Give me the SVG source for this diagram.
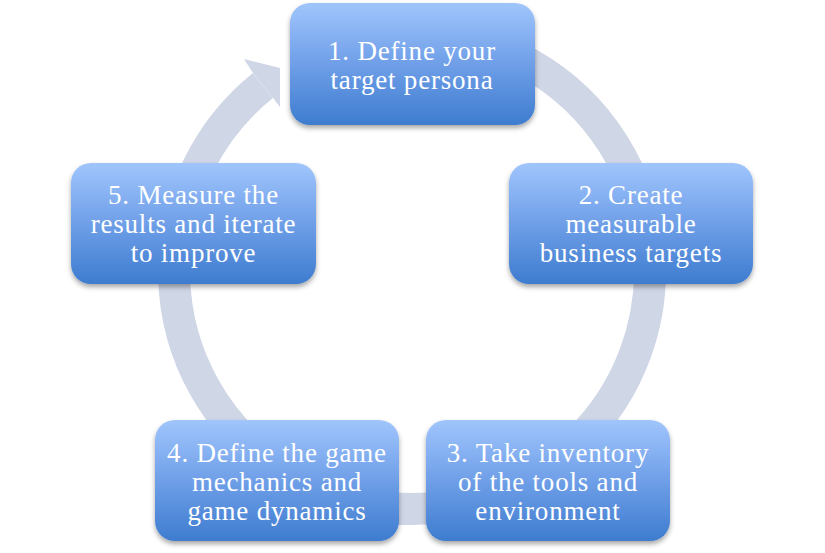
<svg xmlns="http://www.w3.org/2000/svg" width="825" height="553" viewBox="0 0 825 553">
<defs>
<linearGradient id="g" x1="0" y1="0" x2="0" y2="1">
<stop offset="0" stop-color="#A0C5FC"/>
<stop offset="0.5" stop-color="#6F9FE8"/>
<stop offset="1" stop-color="#3E7CCF"/>
</linearGradient>
<filter id="sh" x="-10%" y="-10%" width="120%" height="130%">
<feDropShadow dx="0" dy="3" stdDeviation="2.5" flood-color="#000" flood-opacity="0.35"/>
</filter>
</defs>
<style>
.box{fill:url(#g);filter:url(#sh)}
.t{font-family:"Liberation Serif","Times New Roman",serif;font-size:27px;fill:#fff;text-anchor:middle;letter-spacing:0.8px}
.ring{fill:none;stroke:#CFD6E6;stroke-width:32}
.head{fill:#CFD6E6}
</style>
<rect width="825" height="553" fill="#fff"/>
<g id="connectors">
<path class="ring" d="M432.7,33.9 A238,238 0 1 1 262.9,85.5"/>
<polygon class="head" points="253,73 244,59 280,68 280,107 273,98"/>
</g>
<g id="node1">
<rect class="box" x="290" y="3" width="245" height="122" rx="20"/>
<text class="t" x="412" y="60">1. Define your</text>
<text class="t" x="412" y="88.5">target persona</text>
</g>
<g id="node2">
<rect class="box" x="509" y="163" width="244" height="121" rx="20"/>
<text class="t" x="631" y="204">2. Create</text>
<text class="t" x="631" y="233">measurable</text>
<text class="t" x="631" y="262">business targets</text>
</g>
<g id="node3">
<rect class="box" x="426" y="420" width="244" height="121" rx="20"/>
<text class="t" x="548" y="461.5">3. Take inventory</text>
<text class="t" x="548" y="490.5">of the tools and</text>
<text class="t" x="548" y="519.5">environment</text>
</g>
<g id="node4">
<rect class="box" x="155" y="420" width="244" height="121" rx="20"/>
<text class="t" x="277" y="461.5">4. Define the game</text>
<text class="t" x="277" y="490.5">mechanics and</text>
<text class="t" x="277" y="519.5">game dynamics</text>
</g>
<g id="node5">
<rect class="box" x="71" y="163" width="245" height="121" rx="20"/>
<text class="t" x="193.5" y="204">5. Measure the</text>
<text class="t" x="193.5" y="233">results and iterate</text>
<text class="t" x="193.5" y="262">to improve</text>
</g>
</svg>
